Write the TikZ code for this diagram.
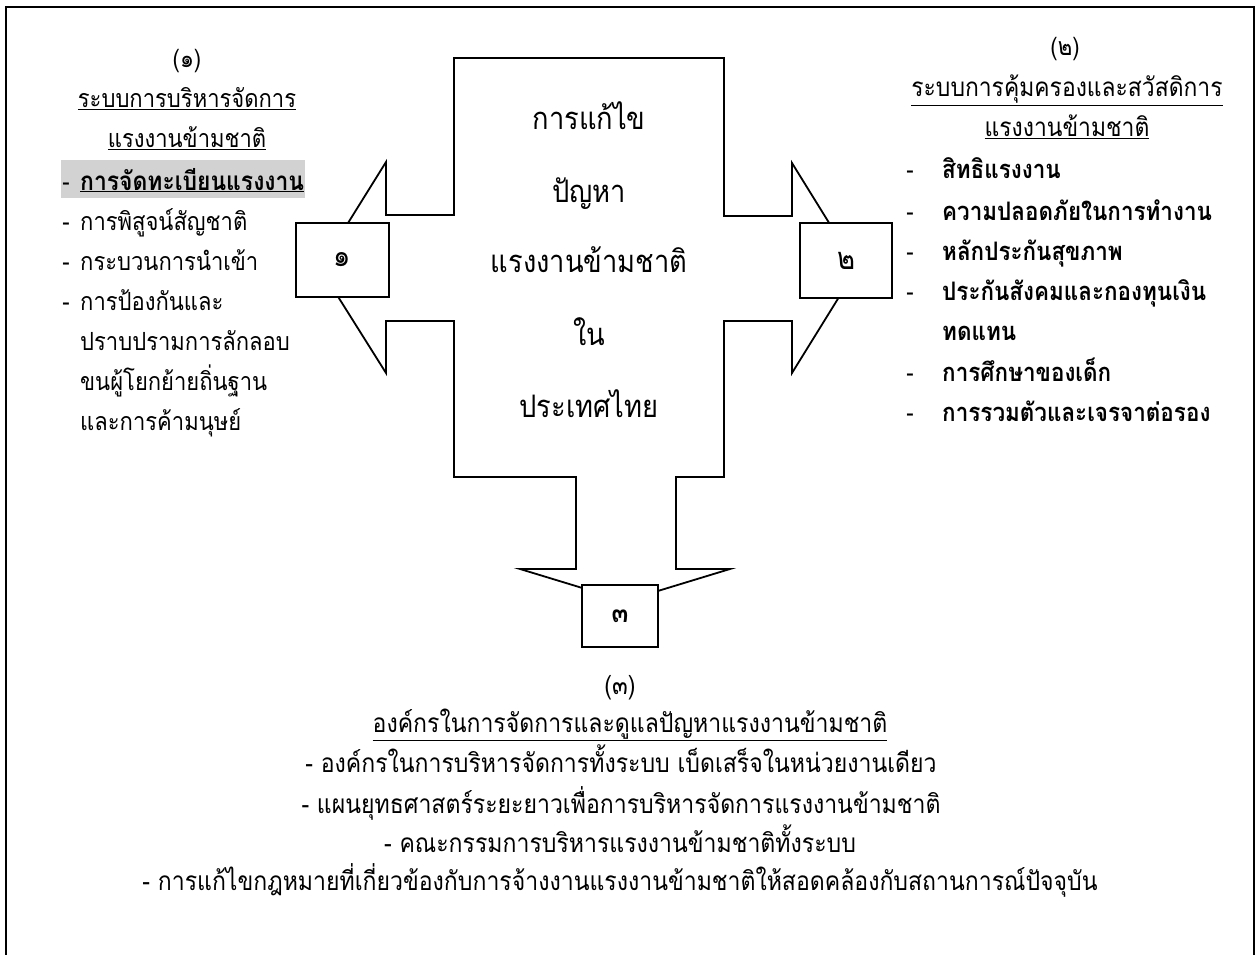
\documentclass[tikz,border=0pt]{standalone}
\usepackage{fontspec}
\setmainfont{Liberation Sans}
\newfontfamily\thai[Script=Thai, FakeStretch=0.88]{Loma}
\begin{document}
\begin{tikzpicture}[x=1pt,y=-1pt,
  outline/.style={draw=black, line width=1.8pt, line join=miter},
  numbox/.style={draw=black, line width=1.8pt, fill=white, inner sep=0pt, font=\thai\fontsize{31}{34}\selectfont},
  lt/.style={anchor=base west, inner sep=0pt, font=\thai\fontsize{25}{30}\selectfont},
  ltc/.style={anchor=base, inner sep=0pt, font=\thai\fontsize{25}{30}\selectfont},
  rtc/.style={anchor=base, inner sep=0pt, font=\thai\fontsize{26}{30}\selectfont},
  rt/.style={anchor=base west, inner sep=0pt, font=\thai\bfseries\fontsize{25.5}{30}\selectfont},
  ctr/.style={anchor=base, inner sep=0pt, font=\thai\fontsize{31}{36}\selectfont},
  bt/.style={anchor=base, inner sep=0pt, font=\thai\fontsize{26.2}{30}\selectfont},
  hyph/.style={anchor=base, inner sep=0pt, font=\thai\fontsize{25}{30}\selectfont}
]
\useasboundingbox (0,0) rectangle (1258,955);
% frame (open at bottom)
\draw[line width=1.5pt] (6,955) -- (6,7) -- (1254,7) -- (1254,955);
% central cross shape with three arrows
\draw[outline] (454,58) -- (724,58) -- (724,216) -- (792,216) -- (792,163) -- (857,268)
  -- (792,373) -- (792,321) -- (724,321) -- (724,477) -- (676,477) -- (676,569)
  -- (730,569) -- (625,601) -- (520,569) -- (576,569) -- (576,477) -- (454,477)
  -- (454,321) -- (386,321) -- (386,373) -- (320,268) -- (386,162) -- (386,215)
  -- (454,215) -- cycle;
% number boxes
\node[numbox, minimum width=93pt, minimum height=74pt] (b1) at (342.5,260) {๑};
\node[numbox, minimum width=92pt, minimum height=75pt] (b2) at (846,260.5) {๒};
\node[numbox, minimum width=76pt, minimum height=62pt, font=\thai\bfseries\fontsize{28}{30}\selectfont] (b3) at (620,616) {๓};
% centre text
\node[ctr] (c1) at (589,130) {การแก้ไข};
\node[ctr] (c2) at (589,202) {ปัญหา};
\node[ctr] (c3) at (589,272) {แรงงานข้ามชาติ};
\node[ctr] (c4) at (589,345) {ใน};
\node[ctr] (c5) at (589,417) {ประเทศไทย};
% left block
\node[ltc] (l0) at (187,68) {(๑)};
\node[ltc] (l1) at (187,108) {\underline{ระบบการบริหารจัดการ}};
\node[ltc] (l2) at (187,148) {\underline{แรงงานข้ามชาติ}};
\fill[gray!35] (61,160) rectangle (305,198);
\node[hyph] (ld0) at (66,190) {-};
\node[lt, font=\thai\bfseries\fontsize{26}{30}\selectfont] (l3) at (80,190) {\underline{การจัดทะเบียนแรงงาน}};
\node[hyph] (ld1) at (66,230) {-};
\node[lt] (l4) at (80,230) {การพิสูจน์สัญชาติ};
\node[hyph] (ld2) at (66,270) {-};
\node[lt] (l5) at (80,270) {กระบวนการนำเข้า};
\node[hyph] (ld3) at (66,310) {-};
\node[lt] (l6) at (80,310) {การป้องกันและ};
\node[lt] (l7) at (80,350) {ปราบปรามการลักลอบ};
\node[lt] (l8) at (80,390) {ขนผู้โยกย้ายถิ่นฐาน};
\node[lt] (l9) at (80,430) {และการค้ามนุษย์};
% right block
\node[ltc] (r0) at (1065,56) {(๒)};
\node[rtc] (r1) at (1067,97) {\underline{ระบบการคุ้มครองและสวัสดิการ}};
\node[rtc] (r2) at (1067,137) {\underline{แรงงานข้ามชาติ}};
\node[hyph] (rd1) at (910,178) {-};
\node[rt] (r3) at (942,178) {สิทธิแรงงาน};
\node[hyph] (rd2) at (910,220) {-};
\node[rt] (r4) at (942,220) {ความปลอดภัยในการทำงาน};
\node[hyph] (rd3) at (910,260) {-};
\node[rt] (r5) at (942,260) {หลักประกันสุขภาพ};
\node[hyph] (rd4) at (910,300) {-};
\node[rt] (r6) at (942,300) {ประกันสังคมและกองทุนเงิน};
\node[rt] (r7) at (942,340) {ทดแทน};
\node[hyph] (rd5) at (910,381) {-};
\node[rt] (r8) at (942,381) {การศึกษาของเด็ก};
\node[hyph] (rd6) at (910,421) {-};
\node[rt] (r9) at (942,421) {การรวมตัวและเจรจาต่อรอง};
% bottom block
\node[bt] (t0) at (620,694) {(๓)};
\node[bt] (t1) at (630,732) {\underline{องค์กรในการจัดการและดูแลปัญหาแรงงานข้ามชาติ}};
\node[bt] (t2) at (621,772) {- องค์กรในการบริหารจัดการทั้งระบบ เบ็ดเสร็จในหน่วยงานเดียว};
\node[bt] (t3) at (621,813) {- แผนยุทธศาสตร์ระยะยาวเพื่อการบริหารจัดการแรงงานข้ามชาติ};
\node[bt] (t4) at (620,852) {- คณะกรรมการบริหารแรงงานข้ามชาติทั้งระบบ};
\node[bt] (t5) at (620,890) {- การแก้ไขกฎหมายที่เกี่ยวข้องกับการจ้างงานแรงงานข้ามชาติให้สอดคล้องกับสถานการณ์ปัจจุบัน};
\end{tikzpicture}
\end{document}
